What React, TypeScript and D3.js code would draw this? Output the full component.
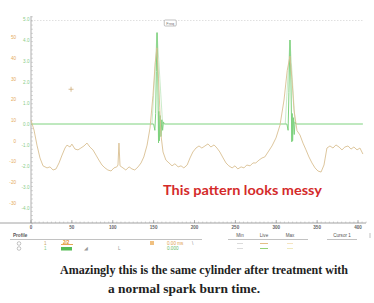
import React from "react";
import * as d3 from "d3";

const xTicks = [0, 50, 100, 150, 200, 250, 300, 350, 400];
const orangeTicks = [50, 40, 30, 20, 10, 0, -10, -20, -30];
const greenTicks = [5, 4, 3, 2, 1, 0, -1, -2, -3, -4];
const greenTickLabels = ["5.0", "4.0", "3.0", "2.0", "1.0", "0.0", "-1.0", "-2.0", "-3.0", "-4.0"];

// orange trace: [time, value]
const orangeTrace: [number, number][] = [
  [0, 10], [3.7, 5.3], [7.3, -2], [11, -8.2], [14.7, -12], [19.6, -13], [23.2, -12.5], [27, -14],
  [30.6, -13.5], [34.3, -10.6], [38, -6.8], [41.6, -3.4], [44, -2], [47.7, -2.9], [50, -1.5],
  [53.8, -3.9], [57.5, -4.3], [61, -3.4], [64.8, -2.4], [68.5, -1], [72, -2.9], [75.8, -4.3],
  [79.5, -6.8], [83, -9.2], [86.8, -11.6], [90.5, -13], [94, -14], [97.9, -14.5], [101.5, -13],
  [105, -12.5], [106.4, -11.6], [107.6, -1], [108.9, -12], [112.5, -13], [116, -14], [120, -12.5],
  [123.5, -13.5], [127, -14], [131, -12.5], [134.6, -10.6], [138, -7.7], [142, -2], [145.6, 6.3],
  [149.2, 22], [152, 38], [154, 45], [156, 30], [157.5, 16], [159, 2.9], [161.5, -5.3], [165, -9.2],
  [168.8, -10.6], [172.5, -12], [176, -11], [180, -12.5], [183.5, -12], [187, -13], [191, -11.6],
  [194.5, -8.2], [198, -5.3], [201.8, -3.4], [205.5, -2.4], [209, -3.4], [212.8, -2.4], [216.5, -1.4],
  [220, -2.9], [223.9, -1.9], [227.5, -3.4], [231, -5.3], [235, -8.2], [238.5, -10.6], [242, -12],
  [246, -13], [249.5, -12], [253, -13.5], [257, -12.5], [260.5, -13], [264, -11.6], [268, -12],
  [271.5, -10.6], [275, -10.6], [279, -9.2], [282.6, -8.2], [286, -7.7], [290, -5.3], [294.8, -2.4],
  [299.7, 1.5], [304.6, 7.7], [309.5, 19.8], [313.4, 34], [316.8, 41], [319.3, 29.5], [321.7, 15],
  [325.4, 5], [329, 2.9], [332.7, -1], [336.4, -4.3], [340, -7.7], [343.7, -10.6], [347.4, -13],
  [351, -14.5], [354.8, -15], [358.4, -11.6], [362, -3.4], [365.7, -2.4], [369.4, -3.4], [373, -1.9],
  [376.8, -2.9], [380.4, -4.3], [384, -2.9], [387.8, -2.4], [391.4, -3.9], [395, -2.9], [398.8, -4.3],
  [402.4, -3.4], [406, -6.3],
];

// green trace: [time, value]
const greenTrace: [number, number][] = [
  [0, 0], [150, 0], [151.5, -0.3], [152.5, 0.5], [153.3, 2.5], [154.2, 4.35], [155.2, 2], [156, -0.9],
  [156.5, 0.6], [157, -0.8], [158, 0.4], [159, -0.6], [160, 0.2], [161, -0.3], [162, 0.1], [163, 0],
  [313, 0], [314.5, -0.3], [315.5, 1.5], [316.8, 4.0], [318, 2], [319, -0.85], [319.5, 0.5],
  [320, -0.8], [321, 0.3], [322, -0.5], [323, 0.1], [324, 0], [406, 0],
];

// faint secondary green envelope around spikes
const greenEnvelope: [number, number][][] = [
  [[148, 0], [154.2, 4.35], [161, 0]],
  [[311, 0], [316.8, 4.0], [323, 0]],
];

const cursorMarker: [number, number] = [49, 25];

const minorX = d3.range(0, 411, 5);
const minorY = d3.range(-40, 61, 2);

export default function App() {
  const x = d3.scaleLinear().domain([0, 400]).range([31, 358]);
  const yO = d3.scaleLinear().domain([-40, 60]).range([223.8, 16.8]);
  const yG = d3.scaleLinear().domain([-4.8, 5.1]).range([224.8, 16.9]);

  const lineO = d3.line<[number, number]>().x((d) => x(d[0])).y((d) => yO(d[1]));
  const lineG = d3.line<[number, number]>().x((d) => x(d[0])).y((d) => yG(d[1]));

  const axisY = 223;
  const small = { fontFamily: "Liberation Sans, Arial, sans-serif", fontSize: 4.6 };

  return (
    <svg width={374} height={303} style={{ position: "absolute", left: 0, top: 0, background: "#fff" }}>
      <rect x={0} y={0} width={374} height={303} fill="#fff" />
      {/* top dotted grid */}
      <line x1={31} x2={363} y1={20.5} y2={20.5} stroke="#d8d8d8" strokeWidth={0.8} strokeDasharray="1.5,1.5" />
      {/* y axis */}
      <line x1={31} x2={31} y1={16} y2={axisY} stroke="#9a9a9a" strokeWidth={0.8} />
      {minorY.map((v) => (
        <line key={"my" + v} x1={31} x2={33} y1={yO(v)} y2={yO(v)} stroke="#b0b0b0" strokeWidth={0.5} />
      ))}
      {orangeTicks.map((v) => (
        <text key={"ot" + v} x={16} y={yO(v) + 1.6} textAnchor="end" fill="#e5aa60" {...small}>
          {v}
        </text>
      ))}
      {greenTicks.map((v, i) => (
        <text key={"gt" + v} x={29.5} y={yG(v) + 1.6} textAnchor="end" fill="#88cc88" {...small}>
          {greenTickLabels[i]}
        </text>
      ))}
      {/* x axis */}
      <line x1={0} x2={366} y1={axisY} y2={axisY} stroke="#8a8a8a" strokeWidth={0.8} />
      {minorX.map((v) => (
        <line key={"mx" + v} x1={x(v)} x2={x(v)} y1={axisY} y2={axisY - 1.5} stroke="#aaa" strokeWidth={0.5} />
      ))}
      {xTicks.map((v) => (
        <g key={"xt" + v}>
          <line x1={x(v)} x2={x(v)} y1={axisY} y2={axisY - 3} stroke="#888" strokeWidth={0.6} />
          <text x={x(v)} y={axisY + 6} textAnchor="middle" fill="#666" {...small} fontWeight="bold">
            {v}
          </text>
        </g>
      ))}

      {/* traces */}
      {greenEnvelope.map((seg, i) => (
        <path key={"ge" + i} d={lineG(seg) || ""} fill="none" stroke="#b5e3b5" strokeWidth={0.7} />
      ))}
      <path d={lineG(greenTrace) || ""} fill="none" stroke="#7fd27f" strokeWidth={1} />
      <path d={lineO(orangeTrace) || ""} fill="none" stroke="#d9bf92" strokeWidth={0.9} />

      {/* cursor marker */}
      <g stroke="#c9a468" strokeWidth={0.7}>
        <line x1={x(cursorMarker[0]) - 2.5} x2={x(cursorMarker[0]) + 2.5} y1={yO(cursorMarker[1])} y2={yO(cursorMarker[1])} />
        <line x1={x(cursorMarker[0])} x2={x(cursorMarker[0])} y1={yO(cursorMarker[1]) - 2.5} y2={yO(cursorMarker[1]) + 2.5} />
      </g>

      {/* small label box near top */}
      <rect x={x(163)} y={20} width={12} height={6} rx={1} fill="#fff" stroke="#999" strokeWidth={0.6} />
      <text x={x(163) + 6} y={24.6} textAnchor="middle" fill="#777" {...small} fontSize={3.8}>
        Freq
      </text>

      {/* annotation */}
      <text x={163} y={195} fill="#d42a2a" fontFamily="Lato, 'Open Sans', sans-serif" fontWeight="bold" fontSize={14}
        textLength={159} lengthAdjust="spacingAndGlyphs">
        This pattern looks messy
      </text>

      {/* profile panel */}
      <text x={13} y={237} fill="#555" {...small} fontWeight="bold">Profile</text>
      <line x1={10} x2={202} y1={239.5} y2={239.5} stroke="#999" strokeWidth={0.6} />
      <circle cx={19} cy={243.5} r={1.8} fill="none" stroke="#888" strokeWidth={0.5} />
      <circle cx={19} cy={248.5} r={1.8} fill="none" stroke="#888" strokeWidth={0.5} />
      <text x={44} y={245} fill="#c9a468" {...small}>1</text>
      <text x={63} y={243.5} fill="#e0902a" {...small} fontWeight="bold">2/2</text>
      <line x1={61} x2={73} y1={244.5} y2={244.5} stroke="#e0902a" strokeWidth={0.8} />
      <rect x={150} y={241} width={4} height={4} fill="#f0c080" />
      <text x={167} y={245} fill="#e0a050" {...small}>0.00 ms</text>
      <text x={192} y={245} fill="#888" {...small}>\</text>
      <text x={44} y={250} fill="#8c8" {...small}>1</text>
      <rect x={61} y={247} width={11} height={3.5} fill="#55bb55" />
      <text x={84} y={250} fill="#999" {...small}>◢</text>
      <text x={118} y={250} fill="#999" {...small}>L</text>
      <text x={167} y={250} fill="#66bb66" {...small}>0.000</text>

      <text x={240} y={237} textAnchor="middle" fill="#555" {...small}>Min</text>
      <text x={264} y={237} textAnchor="middle" fill="#555" {...small}>Live</text>
      <text x={290} y={237} textAnchor="middle" fill="#555" {...small}>Max</text>
      <line x1={228} x2={308} y1={239.5} y2={239.5} stroke="#999" strokeWidth={0.6} />
      <text x={342} y={237} textAnchor="middle" fill="#555" {...small}>Cursor 1</text>
      <line x1={327} x2={357} y1={239.5} y2={239.5} stroke="#999" strokeWidth={0.6} />
      <line x1={370} x2={370} y1={233} y2={238} stroke="#999" strokeWidth={0.6} />
      <line x1={237} x2={243} y1={243.5} y2={243.5} stroke="#ccc" strokeWidth={0.7} />
      <line x1={260} x2={268} y1={243.5} y2={243.5} stroke="#e2b878" strokeWidth={0.9} />
      <line x1={287} x2={293} y1={243.5} y2={243.5} stroke="#f0d8a8" strokeWidth={0.7} />
      <line x1={237} x2={243} y1={248.5} y2={248.5} stroke="#ccc" strokeWidth={0.7} />
      <line x1={260} x2={268} y1={248.5} y2={248.5} stroke="#88cc66" strokeWidth={0.9} />
      <line x1={287} x2={293} y1={248.5} y2={248.5} stroke="#e8e0a0" strokeWidth={0.7} />

      {/* caption */}
      <text x={204} y={274} textAnchor="middle" fill="#222" fontFamily="'Liberation Serif', 'DejaVu Serif', serif"
        fontWeight="bold" fontSize={12.5} textLength={288} lengthAdjust="spacingAndGlyphs">
        Amazingly this is the same cylinder after treatment with
      </text>
      <text x={184} y={293} textAnchor="middle" fill="#222" fontFamily="'Liberation Serif', 'DejaVu Serif', serif"
        fontWeight="bold" fontSize={12.5} textLength={152} lengthAdjust="spacingAndGlyphs">
        a normal spark burn time.
      </text>
    </svg>
  );
}
